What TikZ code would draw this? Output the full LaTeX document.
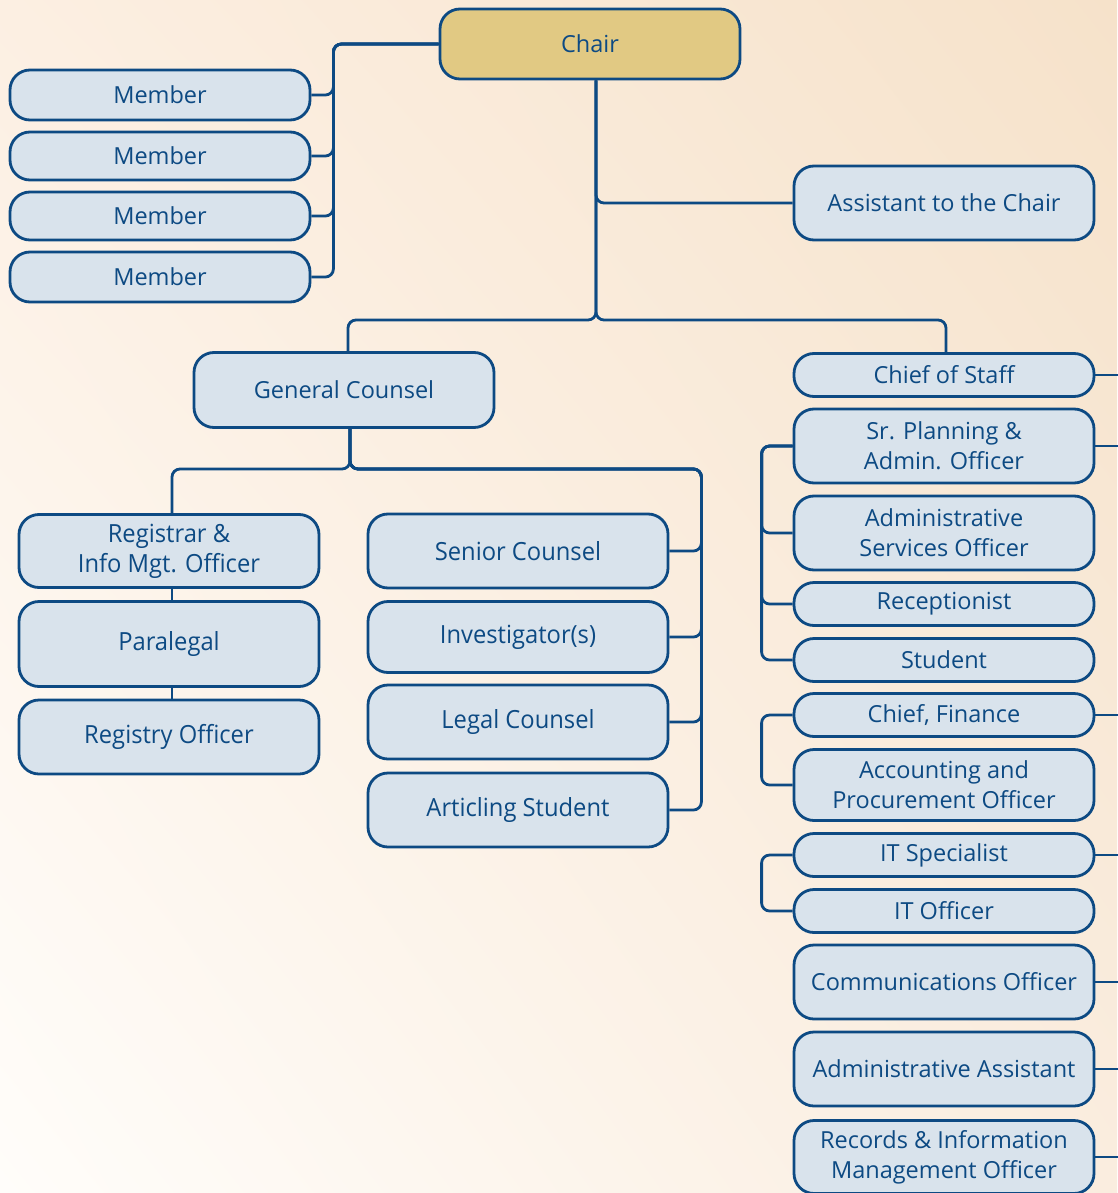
\documentclass[tikz,border=0pt]{standalone}
\usepackage{fontspec}
\setmainfont{Open Sans}
\newfontfamily\narrowfont[FakeStretch=0.95]{Open Sans}
\usepackage{xcolor}
\usetikzlibrary{shadings}
\definecolor{navy}{HTML}{0D4A83}
\definecolor{boxblue}{HTML}{D9E3EC}
\definecolor{chairgold}{HTML}{E1C983}
\definecolor{bgpeach}{HTML}{F6E2CA}
\definecolor{bgcream}{HTML}{FCEFE2}
\definecolor{bgwhite}{HTML}{FFFDFA}
\definecolor{bgmid}{HTML}{FAEDDF}

\begin{document}
\begin{tikzpicture}[x=1pt,y=1pt,yscale=-1,xscale=1,
  postbox/.style={draw=navy, fill=boxblue, line width=2.8pt, rounded corners=20pt,
    minimum width=300pt, inner sep=0pt, align=center, text=navy,
    font=\fontsize{23.5}{30}\selectfont},
  narrowbox/.style={postbox, font=\narrowfont\fontsize{25}{30}\selectfont},
  wire/.style={draw=navy, line width=2.8pt, rounded corners=8pt}]

    %Background
    \shade[lower left=bgwhite, upper right=bgpeach, upper left=bgcream, lower right=bgmid] (0,0) rectangle (1117,1193);
    \useasboundingbox (0,0) rectangle (1117,1193);

    % Chair and board
    \node (chair) [postbox, fill=chairgold, minimum height=70pt] at (590,44) {Chair};
    \node (mem1) [postbox, minimum height=50pt] at (160,95) {Member};
    \node (mem2) [postbox, minimum height=48pt] at (160,156) {Member};
    \node (mem3) [postbox, minimum height=48pt] at (160,216) {Member};
    \node (mem4) [postbox, minimum height=50pt] at (160,277) {Member};
    \node (asst) [postbox, minimum height=74pt] at (944,203) {Assistant to the Chair};

    % Legal side
    \node (gc) [postbox, minimum height=75pt] at (344,390) {General Counsel};
    \node (reg) [narrowbox, minimum height=73pt] at (169,551) {Registrar \&\\Info Mgt. Officer};
    \node (para) [narrowbox, minimum height=85pt] at (169,644) {Paralegal};
    \node (rego) [narrowbox, minimum height=74pt] at (169,737) {Registry Officer};
    \node (sc) [narrowbox, minimum height=74pt] at (518,551) {Senior Counsel};
    \node (inv) [narrowbox, minimum height=71pt] at (518,637) {Investigator(s)};
    \node (lc) [narrowbox, minimum height=74pt] at (518,722) {Legal Counsel};
    \node (art) [narrowbox, minimum height=74pt] at (518,810) {Articling Student};

    % Staff side
    \node (cos) [postbox, minimum height=43pt] at (944,375) {Chief of Staff};
    \node (spao) [postbox, minimum height=74pt] at (944,446) {Sr. Planning \&\\Admin. Officer};
    \node (aso) [postbox, minimum height=74pt] at (944,533) {Administrative\\Services Officer};
    \node (recep) [postbox, minimum height=43pt] at (944,604) {Receptionist};
    \node (stud) [postbox, minimum height=43pt] at (944,660) {Student};
    \node (cfin) [postbox, minimum height=43pt] at (944,715) {Chief, Finance};
    \node (acct) [postbox, minimum height=71pt] at (944,785) {Accounting and\\Procurement Officer};
    \node (its) [postbox, minimum height=43pt] at (944,855) {IT Specialist};
    \node (ito) [postbox, minimum height=43pt] at (944,911) {IT Officer};
    \node (comm) [postbox, minimum height=74pt] at (944,982) {Communications Officer};
    \node (aa) [postbox, minimum height=74pt] at (944,1069) {Administrative Assistant};
    \node (rim) [postbox, minimum height=73pt] at (944,1157) {Records \& Information\\Management Officer};

    \coordinate (split) at (596,320);
    \coordinate (gcsplit) at (350,469);
    \coordinate (pageedge) at (1125,0);

    % Connectors
    \foreach \m in {mem1,mem2,mem3,mem4}
      \draw[wire] (chair.west) -| ([xshift=22pt]\m.east) -- (\m.east);
    \draw[wire] ([xshift=6pt]chair.south) |- (asst.west);
    \draw[wire] ([xshift=6pt]chair.south) -- (split) -| ([xshift=4pt]gc.north);
    \draw[wire] ([xshift=6pt]chair.south) -- (split) -| ([xshift=2pt]cos.north);
    \draw[wire] ([xshift=6pt]gc.south) -- (gcsplit) -| ([xshift=3pt]reg.north);
    \foreach \c in {sc,inv,lc,art}
      \draw[wire] ([xshift=6pt]gc.south) -- (gcsplit) -| ([xshift=32pt]\c.east) -- (\c.east);
    \draw[wire] ([xshift=3pt]reg.south) -- ([xshift=3pt]para.north);
    \draw[wire] ([xshift=3pt]para.south) -- ([xshift=3pt]rego.north);
    \foreach \c in {aso,recep,stud}
      \draw[wire] (spao.west) -| ([xshift=-31pt]\c.west) -- (\c.west);
    \draw[wire] (cfin.west) -| ([xshift=-31pt]acct.west) -- (acct.west);
    \draw[wire] (its.west) -| ([xshift=-31pt]ito.west) -- (ito.west);
    \foreach \c in {cos,spao,cfin,its,comm,aa,rim}
      \draw[wire] (\c.east) -- (\c.east -| pageedge);

\end{tikzpicture}
\end{document}
